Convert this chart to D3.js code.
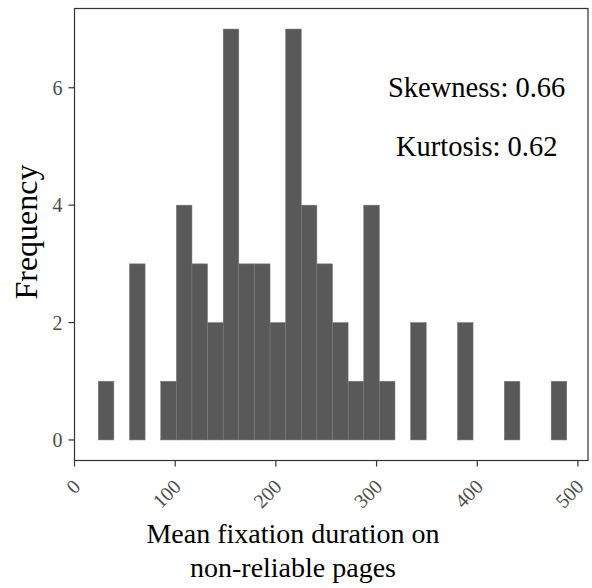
<!DOCTYPE html>
<html>
<head>
<meta charset="utf-8">
<script src="https://cdn.jsdelivr.net/npm/d3@7"></script>
<style>
  body { margin: 0; background: #fff; }
  svg { display: block; font-family: "Liberation Serif", "Times New Roman", serif; }
</style>
</head>
<body>
<div id="vis"></div>
<script>
// histogram counts (30 bins, ggplot default)
var counts = [1, 0, 3, 0, 1, 4, 3, 2, 7, 3, 3, 2, 7, 4, 3, 2, 1, 4, 1, 0,
              2, 0, 0, 2, 0, 0, 1, 0, 0, 1];
var binStart = 23.6,
    binWidth = 15.51;
var xTicks = [0, 100, 200, 300, 400, 500];
var yTicks = [0, 2, 4, 6];
var stats = ["Skewness: 0.66", "Kurtosis: 0.62"];
var xTitle = ["Mean fixation duration on", "non-reliable pages"];
var yTitle = "Frequency";

var W = 592, H = 588;
var panel = {left: 74.5, right: 588, top: 8.5, bottom: 460.5};

var svg = d3.select("#vis").append("svg")
    .attr("width", W)
    .attr("height", H);

var x = d3.scaleLinear()
    .domain([0, 510])
    .range([panel.left, panel.right]);

var y = d3.scaleLinear()
    .domain([-0.35, 7.35])
    .range([panel.bottom, panel.top]);

var bins = counts.map(function (c, i) {
  return {x0: binStart + i * binWidth, x1: binStart + (i + 1) * binWidth, n: c};
});

// bars
svg.append("g")
  .selectAll("rect")
  .data(bins.filter(function (d) { return d.n > 0; }))
  .join("rect")
    .attr("x", function (d) { return x(d.x0); })
    .attr("width", function (d) { return x(d.x1) - x(d.x0); })
    .attr("y", function (d) { return y(d.n); })
    .attr("height", function (d) { return y(0) - y(d.n); })
    .attr("fill", "#595959")
    .attr("stroke", "#7a7a7a")
    .attr("stroke-width", 0.5);

// panel border
svg.append("rect")
    .attr("x", panel.left)
    .attr("y", panel.top)
    .attr("width", panel.right - panel.left)
    .attr("height", panel.bottom - panel.top)
    .attr("fill", "none")
    .attr("stroke", "#333")
    .attr("stroke-width", 1.2);

// x axis ticks
var gx = svg.append("g");
gx.selectAll("line")
  .data(xTicks)
  .join("line")
    .attr("x1", function (d) { return x(d); })
    .attr("x2", function (d) { return x(d); })
    .attr("y1", panel.bottom)
    .attr("y2", panel.bottom + 6)
    .attr("stroke", "#333")
    .attr("stroke-width", 1.2);
gx.selectAll("text")
  .data(xTicks)
  .join("text")
    .attr("transform", function (d) { return "translate(" + (x(d) + 7) + "," + 488 + ") rotate(-45)"; })
    .attr("text-anchor", "end")
    .attr("fill", "#4d4d4d")
    .style("font-size", "20px")
    .text(function (d) { return d; });

// y axis ticks
var gy = svg.append("g");
gy.selectAll("line")
  .data(yTicks)
  .join("line")
    .attr("x1", panel.left - 6)
    .attr("x2", panel.left)
    .attr("y1", function (d) { return y(d); })
    .attr("y2", function (d) { return y(d); })
    .attr("stroke", "#333")
    .attr("stroke-width", 1.2);
gy.selectAll("text")
  .data(yTicks)
  .join("text")
    .attr("x", panel.left - 12)
    .attr("y", function (d) { return y(d); })
    .attr("dy", "0.35em")
    .attr("text-anchor", "end")
    .attr("fill", "#4d4d4d")
    .style("font-size", "20px")
    .text(function (d) { return d; });

// annotations
svg.append("g")
  .selectAll("text")
  .data(stats)
  .join("text")
    .attr("x", 476.7)
    .attr("y", function (d, i) { return 97 + i * 59; })
    .attr("text-anchor", "middle")
    .attr("fill", "#000")
    .style("font-size", "28.5px")
    .text(function (d) { return d; });

// axis titles
svg.append("g")
  .selectAll("text")
  .data(xTitle)
  .join("text")
    .attr("x", 293)
    .attr("y", function (d, i) { return 543 + i * 34; })
    .attr("text-anchor", "middle")
    .attr("fill", "#000")
    .style("font-size", "28px")
    .text(function (d) { return d; });

svg.append("text")
    .attr("transform", "translate(37," + 232 + ") rotate(-90)")
    .attr("text-anchor", "middle")
    .attr("fill", "#000")
    .style("font-size", "32px")
    .text(yTitle);
</script>
</body>
</html>
